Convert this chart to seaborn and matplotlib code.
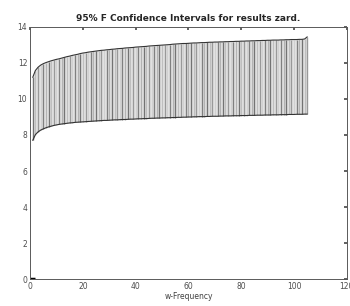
import matplotlib
matplotlib.use("Agg")
import matplotlib.pyplot as plt
import seaborn as sns
import pandas as pd
import numpy as np

freq = list(range(1, 106))
upper = [11.20, 11.58, 11.76, 11.88, 11.96, 12.02, 12.07, 12.12, 12.16, 12.20,
         12.23, 12.27, 12.31, 12.35, 12.38, 12.42, 12.45, 12.48, 12.52, 12.55,
         12.57, 12.60, 12.62, 12.64, 12.66, 12.68, 12.70, 12.71, 12.73, 12.74,
         12.76, 12.77, 12.79, 12.80, 12.81, 12.83, 12.84, 12.85, 12.86, 12.88,
         12.89, 12.90, 12.91, 12.92, 12.94, 12.95, 12.96, 12.97, 12.98, 12.99,
         13.00, 13.01, 13.02, 13.04, 13.05, 13.06, 13.07, 13.08, 13.08, 13.09,
         13.10, 13.11, 13.11, 13.12, 13.13, 13.13, 13.14, 13.15, 13.15, 13.16,
         13.16, 13.17, 13.17, 13.18, 13.18, 13.19, 13.19, 13.20, 13.20, 13.21,
         13.21, 13.22, 13.22, 13.23, 13.23, 13.24, 13.24, 13.25, 13.25, 13.26,
         13.26, 13.27, 13.27, 13.27, 13.28, 13.28, 13.29, 13.29, 13.30, 13.30,
         13.30, 13.31, 13.31, 13.33, 13.45]
lower = [7.70, 8.02, 8.17, 8.27, 8.34, 8.40, 8.45, 8.49, 8.53, 8.56,
         8.59, 8.61, 8.63, 8.65, 8.67, 8.68, 8.70, 8.71, 8.72, 8.73,
         8.74, 8.75, 8.76, 8.77, 8.78, 8.79, 8.80, 8.81, 8.81, 8.82,
         8.83, 8.84, 8.84, 8.85, 8.86, 8.86, 8.87, 8.88, 8.88, 8.89,
         8.90, 8.90, 8.91, 8.91, 8.92, 8.93, 8.93, 8.94, 8.94, 8.95,
         8.95, 8.96, 8.96, 8.97, 8.97, 8.98, 8.98, 8.99, 8.99, 9.00,
         9.00, 9.01, 9.01, 9.02, 9.02, 9.02, 9.03, 9.03, 9.04, 9.04,
         9.04, 9.05, 9.05, 9.06, 9.06, 9.06, 9.07, 9.07, 9.07, 9.08,
         9.08, 9.08, 9.09, 9.09, 9.09, 9.10, 9.10, 9.10, 9.11, 9.11,
         9.11, 9.12, 9.12, 9.12, 9.13, 9.13, 9.13, 9.14, 9.14, 9.14,
         9.15, 9.15, 9.15, 9.16, 9.16]
zero_x = [0, 2]
zero_y = [0, 0]

xticks = [0, 20, 40, 60, 80, 100, 120]
yticks = [0, 2, 4, 6, 8, 10, 12, 14]
title = "95% F Confidence Intervals for results zard."
xlabel = "w-Frequency"

sns.set_theme(style="white")
plt.rcParams['font.family'] = ['DejaVu Sans']

df = pd.DataFrame({"freq": freq, "upper": upper, "lower": lower})

fig = plt.figure(figsize=(3.5, 3.06), dpi=100)
ax = fig.add_axes([0.086, 0.088, 0.905, 0.824])

ax.fill_between(df["freq"], df["lower"], df["upper"], color="0.9", linewidth=0)
shades = ['0.45', '0.75', '0.6', '0.82', '0.5', '0.7']
cols = [shades[i % len(shades)] for i in range(len(freq))]
ax.vlines(df["freq"], df["lower"], df["upper"], colors=cols, linewidth=1.0)
sns.lineplot(data=df, x="freq", y="upper", ax=ax, color="0.2", linewidth=0.8)
sns.lineplot(data=df, x="freq", y="lower", ax=ax, color="0.2", linewidth=0.8)
ax.plot(zero_x, zero_y, color="black", linewidth=2.5, solid_capstyle="butt")

ax.set_xlim(0, 120)
ax.set_ylim(0, 14)
ax.set_xticks(xticks)
ax.set_yticks(yticks)
ax.tick_params(axis="both", direction="in", length=2.5, labelsize=5.5,
               colors="0.3", top=True, right=True, pad=2)
for s in ax.spines.values():
    s.set_color("0.35")
    s.set_linewidth(0.7)
ax.set_title(title, fontsize=6.5, fontweight="bold", pad=4)
ax.set_xlabel(xlabel, fontsize=5.5, labelpad=1, color="0.25")
ax.set_ylabel("")

fig.savefig("out.png", dpi=100)
